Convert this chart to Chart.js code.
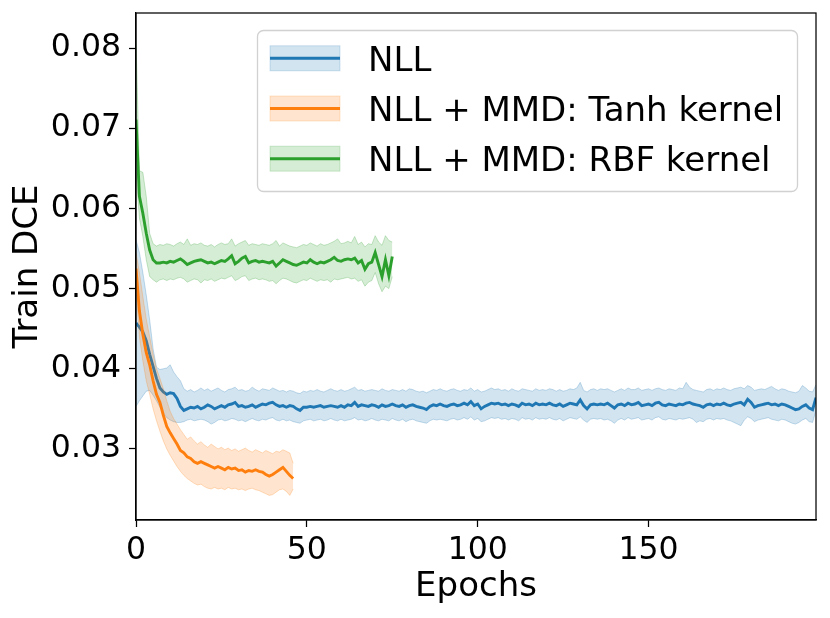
<!DOCTYPE html>
<html>
<head>
<meta charset="utf-8">
<title>Train DCE</title>
<script src="https://cdn.jsdelivr.net/npm/chart.js"></script>
<style>
  html, body { margin: 0; padding: 0; background: #fff; }
</style>
</head>
<body>
<canvas id="dceChart" width="830" height="618"></canvas>

<script>
// series names, tick values
const seriesNames = ['NLL', 'NLL + MMD: Tanh kernel', 'NLL + MMD: RBF kernel'];
const xTicks = [0, 50, 100, 150];
const yTicks = [0.03, 0.04, 0.05, 0.06, 0.07, 0.08];

// NLL, epochs 0..199 (mean and band)
const nllMean = [
  0.0457,0.0452,0.0446,0.0435,0.0418,0.0403,0.0388,0.0376,0.0371,0.0368,
  0.0370,0.0369,0.0363,0.0353,0.0348,0.0350,0.0352,0.0351,0.0353,0.0350,
  0.0352,0.0355,0.0353,0.0350,0.0352,0.0354,0.0352,0.0355,0.0356,0.0358,
  0.0353,0.0354,0.0352,0.0353,0.0355,0.0352,0.0354,0.0356,0.0355,0.0357,
  0.0358,0.0355,0.0353,0.0354,0.0352,0.0354,0.0353,0.0350,0.0348,0.0352,
  0.0352,0.0353,0.0352,0.0353,0.0354,0.0352,0.0353,0.0354,0.0353,0.0352,
  0.0354,0.0352,0.0355,0.0354,0.0358,0.0353,0.0355,0.0354,0.0353,0.0355,
  0.0354,0.0352,0.0355,0.0353,0.0354,0.0356,0.0354,0.0353,0.0355,0.0352,
  0.0354,0.0355,0.0353,0.0352,0.0351,0.0349,0.0353,0.0355,0.0354,0.0356,
  0.0354,0.0353,0.0355,0.0356,0.0354,0.0355,0.0357,0.0355,0.0359,0.0354,
  0.0356,0.0350,0.0353,0.0355,0.0357,0.0356,0.0357,0.0355,0.0356,0.0354,
  0.0356,0.0355,0.0353,0.0357,0.0355,0.0356,0.0354,0.0357,0.0355,0.0356,
  0.0355,0.0357,0.0355,0.0354,0.0356,0.0353,0.0355,0.0357,0.0356,0.0355,
  0.0361,0.0354,0.0350,0.0355,0.0356,0.0355,0.0356,0.0355,0.0357,0.0354,
  0.0351,0.0355,0.0356,0.0354,0.0357,0.0355,0.0356,0.0358,0.0354,0.0355,
  0.0356,0.0354,0.0357,0.0358,0.0355,0.0354,0.0356,0.0355,0.0354,0.0356,
  0.0355,0.0357,0.0358,0.0356,0.0355,0.0354,0.0352,0.0355,0.0356,0.0354,
  0.0356,0.0355,0.0357,0.0355,0.0354,0.0356,0.0357,0.0358,0.0355,0.0362,
  0.0358,0.0352,0.0354,0.0355,0.0356,0.0357,0.0355,0.0356,0.0354,0.0356,
  0.0355,0.0353,0.0351,0.0349,0.0350,0.0353,0.0355,0.0351,0.0349,0.0364
];
const nllUpper = [
  0.0561,0.0545,0.0520,0.0492,0.0461,0.0425,0.0402,0.0399,0.0400,0.0401,
  0.0405,0.0396,0.0390,0.0385,0.0375,0.0372,0.0374,0.0371,0.0373,0.0376,
  0.0373,0.0375,0.0372,0.0374,0.0376,0.0373,0.0371,0.0374,0.0375,0.0377,
  0.0373,0.0374,0.0372,0.0373,0.0377,0.0374,0.0372,0.0375,0.0374,0.0373,
  0.0376,0.0374,0.0372,0.0373,0.0371,0.0373,0.0372,0.0370,0.0369,0.0372,
  0.0371,0.0373,0.0372,0.0374,0.0372,0.0371,0.0373,0.0375,0.0373,0.0372,
  0.0374,0.0372,0.0373,0.0375,0.0377,0.0373,0.0374,0.0372,0.0373,0.0374,
  0.0373,0.0372,0.0375,0.0373,0.0372,0.0374,0.0373,0.0372,0.0374,0.0372,
  0.0375,0.0374,0.0372,0.0371,0.0372,0.0370,0.0372,0.0374,0.0373,0.0375,
  0.0373,0.0372,0.0374,0.0375,0.0373,0.0372,0.0374,0.0373,0.0376,0.0372,
  0.0374,0.0371,0.0372,0.0374,0.0376,0.0374,0.0375,0.0373,0.0374,0.0372,
  0.0375,0.0373,0.0372,0.0375,0.0374,0.0373,0.0372,0.0375,0.0373,0.0374,
  0.0373,0.0375,0.0374,0.0372,0.0374,0.0372,0.0373,0.0375,0.0374,0.0376,
  0.0383,0.0373,0.0371,0.0374,0.0375,0.0373,0.0375,0.0374,0.0375,0.0373,
  0.0371,0.0373,0.0375,0.0373,0.0376,0.0374,0.0374,0.0376,0.0373,0.0374,
  0.0375,0.0373,0.0375,0.0376,0.0374,0.0373,0.0375,0.0374,0.0373,0.0376,
  0.0375,0.0383,0.0377,0.0374,0.0373,0.0372,0.0371,0.0374,0.0375,0.0373,
  0.0375,0.0374,0.0376,0.0374,0.0373,0.0375,0.0376,0.0377,0.0375,0.0379,
  0.0377,0.0373,0.0374,0.0375,0.0374,0.0376,0.0378,0.0375,0.0373,0.0375,
  0.0374,0.0372,0.0371,0.0370,0.0372,0.0379,0.0376,0.0372,0.0371,0.0380
];
const nllLower = [
  0.0353,0.0360,0.0366,0.0372,0.0373,0.0367,0.0360,0.0352,0.0345,0.0339,
  0.0336,0.0334,0.0333,0.0333,0.0334,0.0336,0.0337,0.0335,0.0336,0.0337,
  0.0336,0.0334,0.0331,0.0333,0.0336,0.0337,0.0335,0.0336,0.0338,0.0337,
  0.0335,0.0336,0.0334,0.0336,0.0338,0.0336,0.0335,0.0337,0.0336,0.0338,
  0.0339,0.0336,0.0335,0.0337,0.0335,0.0336,0.0334,0.0333,0.0332,0.0335,
  0.0336,0.0337,0.0335,0.0336,0.0337,0.0335,0.0336,0.0338,0.0336,0.0335,
  0.0337,0.0335,0.0336,0.0337,0.0339,0.0336,0.0337,0.0335,0.0336,0.0338,
  0.0336,0.0335,0.0337,0.0336,0.0335,0.0338,0.0336,0.0335,0.0337,0.0334,
  0.0336,0.0337,0.0335,0.0334,0.0333,0.0332,0.0335,0.0337,0.0336,0.0337,
  0.0336,0.0335,0.0337,0.0338,0.0336,0.0337,0.0339,0.0337,0.0340,0.0336,
  0.0338,0.0334,0.0335,0.0337,0.0339,0.0338,0.0339,0.0337,0.0338,0.0336,
  0.0338,0.0337,0.0335,0.0339,0.0337,0.0338,0.0336,0.0339,0.0337,0.0338,
  0.0337,0.0339,0.0337,0.0336,0.0338,0.0335,0.0337,0.0339,0.0338,0.0337,
  0.0340,0.0336,0.0333,0.0337,0.0338,0.0337,0.0338,0.0336,0.0337,0.0335,
  0.0332,0.0336,0.0338,0.0336,0.0339,0.0337,0.0338,0.0339,0.0336,0.0337,
  0.0338,0.0336,0.0339,0.0340,0.0337,0.0336,0.0338,0.0337,0.0336,0.0338,
  0.0337,0.0338,0.0339,0.0337,0.0333,0.0335,0.0334,0.0337,0.0338,0.0336,
  0.0338,0.0337,0.0338,0.0336,0.0335,0.0333,0.0331,0.0329,0.0336,0.0340,
  0.0338,0.0334,0.0336,0.0337,0.0338,0.0339,0.0337,0.0336,0.0335,0.0337,
  0.0336,0.0334,0.0332,0.0331,0.0333,0.0336,0.0338,0.0334,0.0333,0.0348
];

// NLL + MMD: Tanh kernel, epochs 0..46
const tanhMean = [
  0.0525,0.0472,0.0443,0.0420,0.0405,0.0385,0.0368,0.0358,0.0342,0.0328,
  0.0320,0.0313,0.0306,0.0298,0.0295,0.0290,0.0288,0.0284,0.0282,0.0284,
  0.0282,0.0280,0.0278,0.0276,0.0278,0.0276,0.0274,0.0277,0.0275,0.0276,
  0.0273,0.0274,0.0271,0.0273,0.0272,0.0274,0.0272,0.0271,0.0268,0.0266,
  0.0268,0.0271,0.0274,0.0277,0.0272,0.0267,0.0263
];
const tanhUpper = [
  0.0545,0.0520,0.0490,0.0462,0.0440,0.0418,0.0400,0.0388,0.0375,0.0360,
  0.0347,0.0338,0.0331,0.0324,0.0318,0.0312,0.0315,0.0310,0.0306,0.0309,
  0.0305,0.0302,0.0306,0.0303,0.0300,0.0302,0.0299,0.0301,0.0298,0.0300,
  0.0297,0.0299,0.0301,0.0298,0.0296,0.0299,0.0297,0.0295,0.0298,0.0296,
  0.0294,0.0297,0.0296,0.0299,0.0297,0.0295,0.0282
];
const tanhLower = [
  0.0500,0.0440,0.0410,0.0385,0.0368,0.0350,0.0335,0.0322,0.0310,0.0300,
  0.0292,0.0285,0.0278,0.0272,0.0267,0.0263,0.0260,0.0257,0.0255,0.0256,
  0.0253,0.0251,0.0250,0.0252,0.0250,0.0251,0.0249,0.0252,0.0250,0.0251,
  0.0249,0.0250,0.0248,0.0250,0.0251,0.0249,0.0248,0.0246,0.0244,0.0242,
  0.0243,0.0246,0.0249,0.0250,0.0247,0.0242,0.0250
];

// NLL + MMD: RBF kernel, epochs 0..75
const rbfMean = [
  0.0711,0.0615,0.0594,0.0569,0.0548,0.0536,0.0532,0.0532,0.0533,0.0532,
  0.0534,0.0533,0.0535,0.0537,0.0534,0.0530,0.0532,0.0534,0.0535,0.0536,
  0.0534,0.0532,0.0533,0.0531,0.0533,0.0535,0.0534,0.0537,0.0541,0.0531,
  0.0534,0.0538,0.0540,0.0532,0.0534,0.0535,0.0533,0.0534,0.0533,0.0532,
  0.0534,0.0528,0.0532,0.0536,0.0534,0.0532,0.0530,0.0529,0.0531,0.0533,
  0.0532,0.0536,0.0533,0.0531,0.0533,0.0532,0.0534,0.0536,0.0539,0.0535,
  0.0534,0.0536,0.0537,0.0536,0.0538,0.0532,0.0535,0.0524,0.0531,0.0533,
  0.0545,0.0530,0.0515,0.0536,0.0516,0.0540
];
const rbfUpper = [
  0.0810,0.0647,0.0645,0.0615,0.0569,0.0556,0.0553,0.0555,0.0554,0.0556,
  0.0555,0.0553,0.0556,0.0558,0.0555,0.0562,0.0554,0.0556,0.0555,0.0557,
  0.0554,0.0553,0.0555,0.0552,0.0555,0.0557,0.0555,0.0556,0.0562,0.0553,
  0.0556,0.0558,0.0560,0.0554,0.0556,0.0555,0.0554,0.0556,0.0555,0.0554,
  0.0556,0.0560,0.0553,0.0557,0.0555,0.0553,0.0552,0.0551,0.0553,0.0555,
  0.0554,0.0557,0.0555,0.0553,0.0556,0.0554,0.0555,0.0557,0.0559,0.0562,
  0.0556,0.0557,0.0559,0.0557,0.0565,0.0555,0.0558,0.0552,0.0556,0.0555,
  0.0566,0.0558,0.0554,0.0566,0.0560,0.0558
];
const rbfLower = [
  0.0645,0.0588,0.0565,0.0536,0.0515,0.0511,0.0508,0.0511,0.0512,0.0510,
  0.0512,0.0511,0.0513,0.0514,0.0512,0.0508,0.0510,0.0512,0.0511,0.0507,
  0.0511,0.0510,0.0512,0.0509,0.0511,0.0513,0.0512,0.0514,0.0516,0.0510,
  0.0512,0.0515,0.0516,0.0510,0.0512,0.0513,0.0511,0.0512,0.0511,0.0509,
  0.0510,0.0506,0.0510,0.0513,0.0512,0.0510,0.0508,0.0507,0.0509,0.0511,
  0.0510,0.0513,0.0511,0.0509,0.0511,0.0510,0.0511,0.0508,0.0512,0.0511,
  0.0512,0.0513,0.0514,0.0512,0.0513,0.0509,0.0511,0.0503,0.0508,0.0510,
  0.0520,0.0506,0.0496,0.0503,0.0500,0.0515
];

const seriesRgb = ['31,119,180', '255,127,14', '44,160,44'];
const fontFamily = '"DejaVu Sans", sans-serif';

function points(values) {
  return values.map((v, i) => ({ x: i, y: v }));
}

// band (upper, lower filled to upper) + mean line for one series
function seriesDatasets(name, mean, upper, lower, rgb, order) {
  const edge = 'rgba(' + rgb + ',0.25)';
  return [
    { label: name + ' upper', data: points(upper), borderColor: edge, borderWidth: 1,
      pointRadius: 0, fill: false, order: order + 1 },
    { label: name + ' lower', data: points(lower), borderColor: edge, borderWidth: 1,
      backgroundColor: 'rgba(' + rgb + ',0.2)', pointRadius: 0, fill: '-1', order: order + 1 },
    { label: name, data: points(mean), borderColor: 'rgb(' + rgb + ')', borderWidth: 2.9,
      pointRadius: 0, fill: false, order: order }
  ];
}

const datasets = [].concat(
  seriesDatasets(seriesNames[0], nllMean, nllUpper, nllLower, seriesRgb[0], 5),
  seriesDatasets(seriesNames[1], tanhMean, tanhUpper, tanhLower, seriesRgb[1], 3),
  seriesDatasets(seriesNames[2], rbfMean, rbfUpper, rbfLower, seriesRgb[2], 1)
);

// box around the plot (all four spines)
const framePlugin = {
  id: 'frame',
  afterDatasetsDraw(chart) {
    const { ctx, chartArea: a } = chart;
    ctx.save();
    ctx.strokeStyle = '#000';
    ctx.lineWidth = 1.25;
    ctx.strokeRect(a.left, a.top, a.right - a.left, a.bottom - a.top);
    ctx.restore();
  }
};

// matplotlib-like legend: band patch with line, inside the plot
const legendPlugin = {
  id: 'bandLegend',
  afterDraw(chart) {
    const ctx = chart.ctx;
    const bx = 257.5, by = 30.5, bw = 540, bh = 161, r = 6;
    ctx.save();
    ctx.beginPath();
    ctx.roundRect(bx, by, bw, bh, r);
    ctx.fillStyle = 'rgba(255,255,255,0.8)';
    ctx.fill();
    ctx.strokeStyle = 'rgba(204,204,204,0.9)';
    ctx.lineWidth = 1.3;
    ctx.stroke();

    ctx.font = '34px ' + fontFamily;
    ctx.textBaseline = 'alphabetic';
    seriesNames.forEach((name, i) => {
      const cy = 58.3 + i * 50.2;
      const rgb = seriesRgb[i];
      ctx.fillStyle = 'rgba(' + rgb + ',0.2)';
      ctx.fillRect(270, cy - 12.5, 70, 25);
      ctx.strokeStyle = 'rgba(' + rgb + ',0.2)';
      ctx.lineWidth = 1;
      ctx.strokeRect(270, cy - 12.5, 70, 25);
      ctx.beginPath();
      ctx.moveTo(270, cy);
      ctx.lineTo(340, cy);
      ctx.strokeStyle = 'rgb(' + rgb + ')';
      ctx.lineWidth = 2.9;
      ctx.stroke();
      ctx.fillStyle = '#000';
      ctx.fillText(name, 368, cy + 12.5);
    });
    ctx.restore();
  }
};

new Chart(document.getElementById('dceChart'), {
  type: 'line',
  data: { datasets: datasets },
  options: {
    responsive: false,
    animation: false,
    layout: { padding: { top: 13, right: 14, left: 0, bottom: 0 } },
    plugins: {
      legend: { display: false },
      tooltip: { enabled: false }
    },
    scales: {
      x: {
        type: 'linear',
        min: 0,
        max: 199,
        afterBuildTicks: s => { s.ticks = xTicks.map(v => ({ value: v })); },
        afterFit: s => { s.height = 98; s.paddingLeft = 0; s.paddingRight = 0; },
        grid: { drawOnChartArea: false, tickLength: 7, tickColor: '#000', tickWidth: 1.25 },
        border: { display: true, color: '#000', width: 1.25 },
        ticks: { font: { family: fontFamily, size: 31.5 }, color: '#000', padding: 5,
                 maxRotation: 0, autoSkip: false },
        title: { display: true, text: 'Epochs', color: '#000',
                 font: { family: fontFamily, size: 34 }, padding: { top: 0, bottom: 10 } }
      },
      y: {
        min: 0.02113,
        max: 0.08438,
        afterBuildTicks: s => { s.ticks = yTicks.map(v => ({ value: v })); },
        afterFit: s => { s.width = 136; s.paddingTop = 0; s.paddingBottom = 0; },
        grid: { drawOnChartArea: false, tickLength: 7, tickColor: '#000', tickWidth: 1.25 },
        border: { display: true, color: '#000', width: 1.25 },
        ticks: { font: { family: fontFamily, size: 31.5 }, color: '#000', padding: 8,
                 callback: v => v.toFixed(2) },
        title: { display: true, text: 'Train DCE', color: '#000',
                 font: { family: fontFamily, size: 34 }, padding: { top: 8, bottom: 0 } }
      }
    }
  },
  plugins: [framePlugin, legendPlugin]
});
</script>
</body>
</html>
